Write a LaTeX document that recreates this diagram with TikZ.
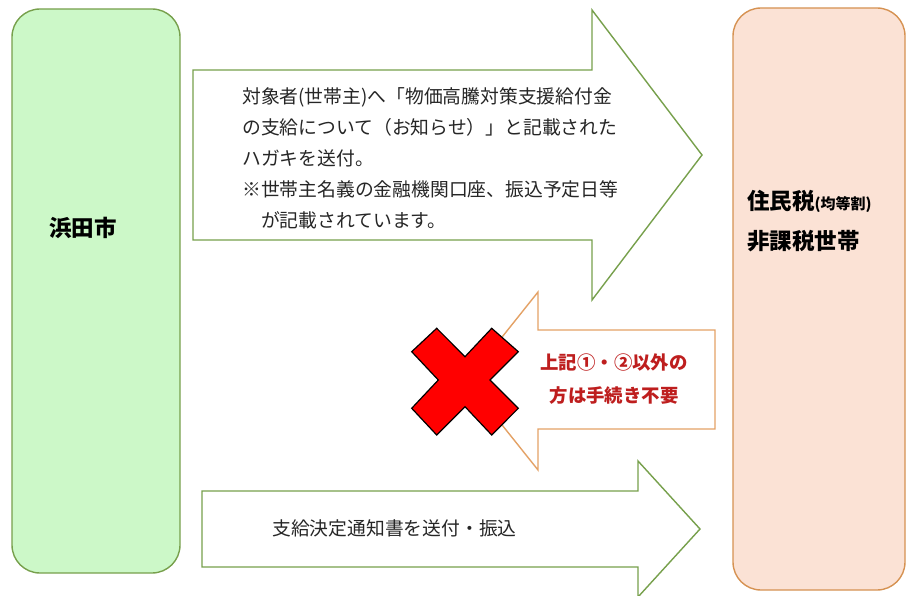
\documentclass[tikz,border=0pt]{standalone}
\usepackage{fontspec}
\setmainfont{Noto Sans CJK JP}
\definecolor{greenline}{RGB}{119,160,76}
\definecolor{leftfill}{RGB}{204,248,200}
\definecolor{rightfill}{RGB}{251,226,213}
\definecolor{rightline}{RGB}{214,146,82}
\definecolor{orangeline}{RGB}{228,162,102}
\definecolor{darkred}{RGB}{190,30,30}
\definecolor{xred}{RGB}{255,0,0}
\tikzset{
  partybox/.style={rounded corners=28pt, line width=1.4pt},
  greenarrow/.style={draw=greenline, fill=white, line width=1.4pt, line join=miter},
  orangearrow/.style={draw=orangeline, fill=white, line width=1.4pt, line join=miter},
  crossmark/.style={draw=black, fill=xred, line width=1.2pt, line join=miter},
  bodytext/.style={font=\fontsize{18.8}{31}\selectfont, text=black!85, inner sep=0pt},
  labeltext/.style={font=\bfseries\fontsize{22.5}{40}\selectfont, inner sep=0pt},
  notetext/.style={font=\bfseries\fontsize{18.4}{33}\selectfont, text=darkred, inner sep=0pt, align=center}
}
\begin{document}
\begin{tikzpicture}[x=1pt,y=-1pt]
\useasboundingbox (0,0) rectangle (910,596);
\fill[white] (0,0) rectangle (910,596);
% parties
\draw[partybox, draw=greenline, fill=leftfill] (12,9) rectangle (180,573);
\draw[partybox, draw=rightline, fill=rightfill] (733,8) rectangle (905,590);
% top arrow
\draw[greenarrow] (193,70) -- (592,70) -- (592,10) -- (702,155) -- (592,300) -- (592,240) -- (193,240) -- cycle;
% bottom arrow
\draw[greenarrow] (202,491) -- (638,491) -- (638,461) -- (700,529) -- (638,597) -- (638,567) -- (202,567) -- cycle;
% orange arrow
\draw[orangearrow] (715,330) -- (538,330) -- (538,292) -- (467,381) -- (538,470) -- (538,429) -- (715,429) -- cycle;
% red cross
\draw[crossmark] (411.7,351.7) -- (436.7,328.3) -- (465,356.7) -- (491.7,328.3) -- (518.3,351.7) -- (490,380) -- (518.3,408.3) -- (491.7,435) -- (465,406.7) -- (436.7,435) -- (411.7,408.3) -- (438.3,380) -- cycle;
% texts
\node[labeltext, anchor=center] (city) at (83,228) {浜田市};
\node[labeltext, anchor=west, align=left] (house) at (747,221) {住民税{\fontsize{15}{15}\selectfont (均等割)}\\非課税世帯};
\node[bodytext, anchor=west, align=left] (letter) at (242,158) {対象者(世帯主)へ「物価高騰対策支援給付金\\の支給について（お知らせ）」と記載された\\ハガキを送付。\\※世帯主名義の金融機関口座、振込予定日等\\\hspace*{1em}が記載されています。};
\node[notetext] (note) at (614,379) {上記①・②以外の\\方は手続き不要};
\node[bodytext, anchor=west] (pay) at (272,528) {支給決定通知書を送付・振込};
\end{tikzpicture}
\end{document}
